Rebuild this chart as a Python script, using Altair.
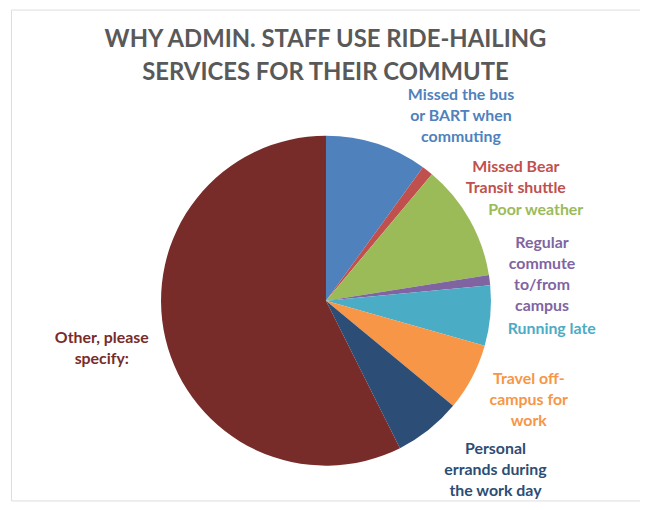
import altair as alt
import pandas as pd

# ---- data ----
categories = [
    "Missed the bus or BART when commuting",
    "Missed Bear Transit shuttle",
    "Poor weather",
    "Regular commute to/from campus",
    "Running late",
    "Travel off-campus for work",
    "Personal errands during the work day",
    "Other, please specify:",
]
label_text = [
    "Missed the bus\nor BART when\ncommuting",
    "Missed Bear\nTransit shuttle",
    "Poor weather",
    "Regular\ncommute\nto/from\ncampus",
    "Running late",
    "Travel off-\ncampus for\nwork",
    "Personal\nerrands during\nthe work day",
    "Other, please\nspecify:",
]
shares = [10.0, 1.1, 11.4, 1.0, 5.9, 6.6, 6.6, 57.4]
colors = ["#4F81BD", "#C0504D", "#9BBB59", "#8064A2",
          "#4BACC6", "#F79646", "#2C4D75", "#772C2A"]
title_lines = ["WHY ADMIN. STAFF USE RIDE-HAILING", "SERVICES FOR THEIR COMMUTE"]

df = pd.DataFrame({
    "idx": list(range(len(categories))),
    "category": categories,
    "label": label_text,
    "share": shares,
})

# ---- layout (not data) ----
W, H = 633, 494
CX, CY = 317, 293
R = 166
LABEL_R = 200
LINE_H = 21
label_offsets = [(74, 4), (68, 34), (37, 7), (19, -1), (28, 10), (27, 7), (46, 14), (-31, 2)]
FONT = "Lato"

color_scale = alt.Scale(domain=categories, range=colors)

base = alt.Chart(df)

pie = base.mark_arc(radius=R, stroke=None).encode(
    theta=alt.Theta("share:Q", stack=True),
    color=alt.Color("category:N", scale=color_scale, legend=None),
    order=alt.Order("idx:Q"),
    x=alt.value(CX),
    y=alt.value(CY),
)

text_base = base.transform_window(
    cum="sum(share)", sort=[alt.SortField("idx")]
).transform_calculate(
    mid="datum.cum - datum.share / 2"
)

layers = [pie]
for i, cat in enumerate(categories):
    dx, dy = label_offsets[i]
    n_lines = label_text[i].count("\n") + 1
    dy = dy - (n_lines - 1) * LINE_H / 2
    layers.append(
        text_base.transform_filter(alt.datum.idx == i).mark_text(
            radius=LABEL_R, dx=dx, dy=dy, font=FONT, fontSize=16,
            fontWeight="bold", lineBreak="\n", lineHeight=LINE_H,
            align="center", baseline="middle",
        ).encode(
            theta=alt.Theta("mid:Q", scale=alt.Scale(domain=[0, 100], range=[0, 6.283185307179586])),
            text="label:N",
            color=alt.Color("category:N", scale=color_scale, legend=None),
            x=alt.value(CX),
            y=alt.value(CY),
        )
    )

chart = alt.layer(*layers).resolve_scale(theta="independent").properties(
    width=W,
    height=H,
    padding={"left": 3, "top": 0, "right": 0, "bottom": 0},
    autosize=alt.AutoSizeParams(type="none"),
    title=alt.TitleParams(
        text=title_lines, font=FONT, fontSize=24, fontWeight="bold",
        color="#595959", anchor="middle", frame="group",
        offset=-76, baseline="top", lineHeight=33,
    ),
).configure_view(
    stroke="#d9d9d9", strokeWidth=1
).configure(background="white")

chart.save("out.html", embed_options={"renderer": "svg", "actions": False})
